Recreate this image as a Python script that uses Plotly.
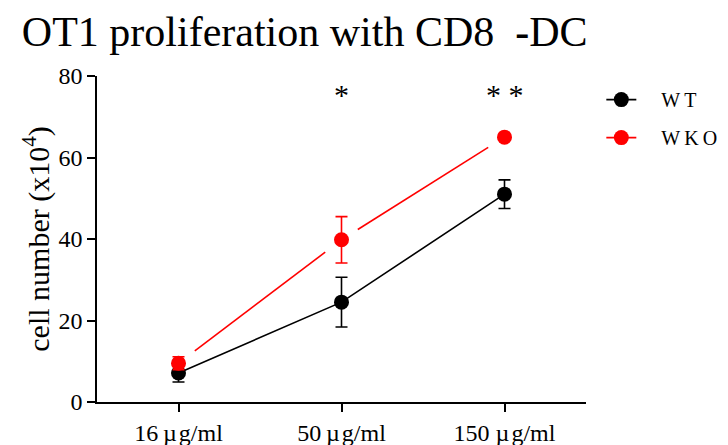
import plotly.graph_objects as go

# Antigen doses (categories) and OT1 cell counts (x10^4)
doses = ["16\u2009µ\u200ag/ml", "50\u2009µ\u200ag/ml", "150 µ\u200ag/ml"]
wt_mean = [7.1, 24.5, 51.0]
wt_sem = [2.2, 6.1, 3.5]
wko_mean = [9.5, 39.8, 65.0]
wko_sem = [1.6, 5.7, 0.0]
signif = ["", "*", "* *"]

SERIF = "Liberation Serif"
RED = "#ff0000"
pos = list(range(len(doses)))

# Connecting segments for WKO, trimmed back from each point (10% at each end)
trim = 0.1
seg_x, seg_y = [], []
for i in range(len(pos) - 1):
    for t in (trim, 1 - trim):
        seg_x.append(pos[i] + t * (pos[i + 1] - pos[i]))
        seg_y.append(wko_mean[i] + t * (wko_mean[i + 1] - wko_mean[i]))
    seg_x.append(None)
    seg_y.append(None)

fig = go.Figure()

fig.add_trace(go.Scatter(
    x=pos, y=wt_mean, mode="lines+markers", name="WT",
    line=dict(color="black", width=1.6),
    marker=dict(color="black", size=15),
    error_y=dict(type="data", array=wt_sem, color="black", thickness=1.6, width=6),
    showlegend=False,
))
fig.add_trace(go.Scatter(
    x=seg_x, y=seg_y, mode="lines",
    line=dict(color=RED, width=1.6), showlegend=False, hoverinfo="skip",
))
fig.add_trace(go.Scatter(
    x=pos, y=wko_mean, mode="markers", name="WKO",
    marker=dict(color=RED, size=15),
    error_y=dict(type="data", array=wko_sem, color=RED, thickness=1.6, width=6),
    showlegend=False,
))

# Legend entries
fig.add_trace(go.Scatter(
    x=[None], y=[None], mode="lines+markers", name="\u2003W\u2009T",
    line=dict(color="black", width=1.6), marker=dict(color="black", size=15),
    legendgroup="a",
))
fig.add_trace(go.Scatter(
    x=[None], y=[None], mode="lines+markers", name="\u2003W\u2009K\u2009O",
    line=dict(color=RED, width=1.6), marker=dict(color=RED, size=15),
    legendgroup="b",
))

for p, s in zip(pos, signif):
    if s:
        fig.add_annotation(
            x=p, y=75.5, text=s, showarrow=False,
            font=dict(family=SERIF, size=30, color="black"),
        )

fig.update_layout(
    width=728, height=445,
    margin=dict(l=97, r=142, t=76, b=43, autoexpand=False),
    paper_bgcolor="white", plot_bgcolor="white",
    title=dict(
        text="OT1 proliferation with CD8\u00a0\u00a0<b>-</b>DC",
        font=dict(family=SERIF, size=42, color="black"),
        x=0.03, xanchor="left", xref="container",
        y=0.93, yanchor="middle",
    ),
    legend=dict(
        x=0.826, y=0.82, xanchor="left", yanchor="top",
        xref="container", yref="container",
        font=dict(family=SERIF, size=20, color="black"),
        tracegroupgap=9, traceorder="grouped",
        bgcolor="rgba(0,0,0,0)",
    ),
    xaxis=dict(
        range=[-0.5, 2.5], tickmode="array", tickvals=pos, ticktext=doses,
        showline=True, linecolor="black", linewidth=1.6,
        ticks="outside", ticklen=8, tickwidth=1.6, tickcolor="black",
        showgrid=False, zeroline=False, automargin=False,
        tickfont=dict(family=SERIF, size=24, color="black"),
    ),
    yaxis=dict(
        range=[0, 80], tickvals=[0, 20, 40, 60, 80],
        showline=True, linecolor="black", linewidth=1.6,
        ticks="outside", ticklen=8, tickwidth=1.6, tickcolor="black",
        showgrid=False, zeroline=False, automargin=False,
        tickfont=dict(family=SERIF, size=24, color="black"),
        title=dict(text="cell number (x10<sup>4</sup>)",
                   font=dict(family=SERIF, size=30, color="black"), standoff=0),
    ),
)

fig.write_html("out.html")
